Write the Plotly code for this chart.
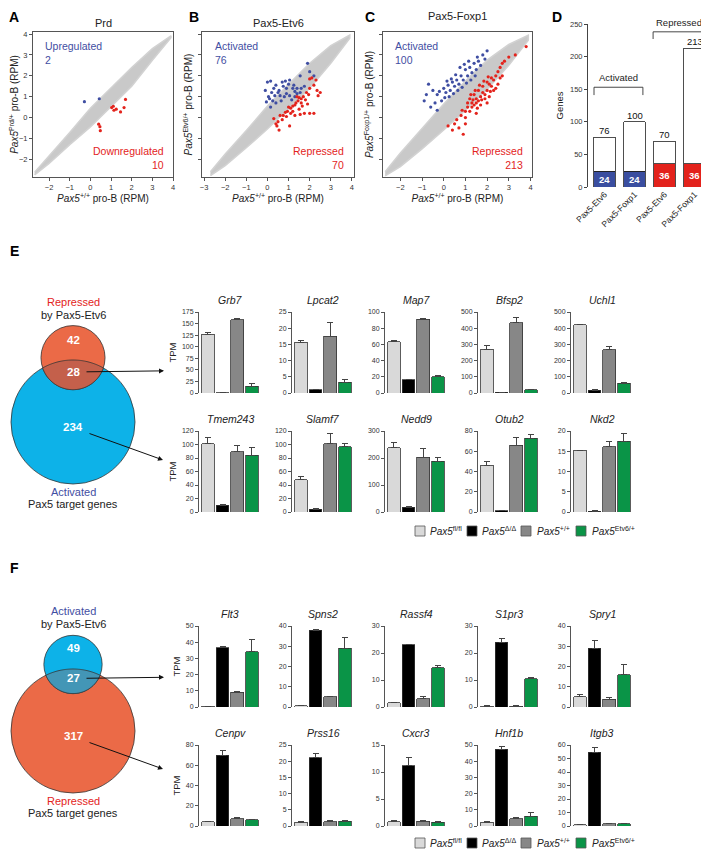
import math
import numpy as np
import plotly.graph_objects as go

W, H = 709, 854
OFF = 8  # the page body margin moves the figure 8 px right and down
FONT = "Liberation Sans, Arial, sans-serif"

# ---------------- data ----------------
# A-C scatter: outline of the grey gene cloud + coloured genes
band_x = [-2.7, -2.0, -1.0, 0.0, 1.0, 2.0, 3.0, 3.9]
a_band_hi = [-2.62, -1.85, -0.72, 0.45, 1.45, 2.4, 3.3, 3.92]
a_band_lo = [-2.75, -2.2, -1.3, -0.45, 0.5, 1.5, 2.75, 3.82]
b_band_hi = [-2.6, -1.75, -0.62, 0.55, 1.6, 2.6, 3.45, 3.95]
b_band_lo = [-2.78, -2.3, -1.45, -0.55, 0.4, 1.4, 2.6, 3.8]
c_band_hi = [-2.6, -1.7, -0.52, 0.65, 1.75, 2.75, 3.5, 3.95]
c_band_lo = [-2.8, -2.35, -1.5, -0.6, 0.35, 1.35, 2.5, 3.7]

a_up_x = [-0.29, 0.43]
a_up_y = [0.76, 0.9]
a_dn_x = [1.03, 1.14, 1.11, 1.25, 1.70, 1.63, 1.46, 0.40, 0.46, 0.48]
a_dn_y = [0.48, 0.35, 0.54, 0.40, 0.87, 0.48, 0.27, -0.32, -0.44, -0.63]

b_up_x = [0.0, 0.15, 0.3, 0.4, 0.55, 0.7, 0.85, 0.9, 1.0, 1.2, 1.3, 1.4, 1.6, 1.75, 1.9, 1.55,
          0.25, 0.1, 0.4, 0.65, 0.8, 1.05, 1.3, 1.4, 1.55, 0.15, -0.05, 0.6, 0.9, 1.15, 0.35,
          2.0, 2.2, 1.05, 0.75, 0.2, -0.1, 0.5, 0.05, 1.25]
b_up_y = [1.7, 1.75, 1.4, 1.55, 1.3, 1.7, 1.75, 1.4, 1.6, 1.4, 1.25, 1.4, 1.4, 1.5, 2.6, 2.0,
          0.8, 0.9, 0.7, 0.8, 1.0, 1.05, 1.0, 1.15, 1.2, 0.5, 0.75, 1.05, 1.15, 0.85, 1.05,
          2.2, 2.0, 1.8, 1.5, 1.2, 1.3, 1.2, 1.0, 1.55]
b_dn_x = [2.0, 2.1, 2.3, 2.2, 2.0, 1.85, 1.7, 1.6, 1.5, 1.45, 1.35, 1.3, 1.2, 1.1, 1.0, 0.95,
          0.85, 0.75, 0.7, 0.5, 0.45, 0.55, 0.4, 1.05, 1.3, 1.55, 1.75, 2.0, 2.2, 2.5, 2.35,
          1.9, 1.65, 1.5, 1.2, 0.9, 1.4, 1.6, 1.8, 0.3, 0.6, 1.1, 2.4, 1.95]
b_dn_y = [1.85, 1.9, 1.8, 1.55, 1.4, 1.2, 1.0, 0.9, 0.95, 0.8, 0.7, 0.6, 0.55, 0.45, 0.5, 0.3,
          0.25, 0.1, -0.1, -0.2, -0.4, -0.6, -0.3, -0.4, 0.1, 0.15, 0.2, 0.2, 0.2, 1.2, 1.3,
          0.65, 0.55, 0.4, 0.3, 0.05, 1.0, 0.7, 0.85, -0.05, 0.1, 0.2, 1.05, 1.1]

c_up_x = [-0.7, -0.5, -0.3, -0.2, 0.0, 0.1, 0.2, 0.3, 0.4, 0.5, 0.6, 0.7, 0.8, 0.9, 1.0, 1.1,
          1.2, 1.3, 1.4, 1.5, 1.6, 1.7, 1.8, 1.9, 2.0, -0.9, -0.6, -0.4, -0.1, 0.05, 0.25, 0.45,
          0.65, 0.85, 1.05, 1.25, 1.45, -0.3, 0.15, 0.55, 0.35, 0.75, 1.15, -0.8, 0.95, 1.55]
c_up_y = [1.6, 1.3, 1.1, 1.25, 1.4, 1.2, 1.55, 1.3, 1.7, 1.5, 1.8, 1.6, 2.0, 1.8, 2.3, 2.0,
          2.4, 2.15, 2.6, 2.3, 2.7, 2.5, 3.0, 2.8, 3.2, 0.8, 0.5, 0.7, 0.8, 0.95, 1.0, 1.15,
          1.3, 1.45, 1.65, 1.8, 2.0, 0.35, 1.75, 2.05, 1.85, 2.4, 2.7, 1.1, 2.55, 2.9]
c_dn_x = [0.5, 0.7, 0.9, 0.6, 0.8, 1.0, 1.0, 1.1, 1.2, 1.3, 1.4, 1.5, 1.6, 1.7, 1.8, 1.9,
          2.0, 2.1, 2.2, 2.3, 2.4, 2.5, 2.6, 2.7, 2.8, 3.0, 3.8, 3.3, 1.2, 1.4, 1.6, 1.8, 2.0,
          2.2, 1.1, 1.3, 1.5, 1.7, 1.9, 2.1, 2.3, 2.5, 2.7, 0.4, 0.2, 1.0, 1.5, 2.0, 2.4, 2.6,
          1.25, 1.45, 1.65, 1.85, 2.05, 1.55, 1.75, 0.85, 1.35, 2.15]
c_dn_y = [-0.3, -0.5, -0.8, -0.1, 0.1, 0.0, 0.3, 0.5, 0.3, 0.7, 0.6, 0.9, 0.8, 1.0, 1.2, 1.1,
          1.3, 1.6, 1.5, 1.8, 2.0, 2.2, 2.4, 2.6, 2.7, 2.9, 3.4, 3.0, 0.9, 1.1, 1.3, 1.5, 1.7,
          1.9, 0.7, 0.5, 0.7, 0.6, 0.9, 1.0, 1.3, 1.6, 2.0, -0.6, -0.4, -0.3, 0.2, 0.7, 1.4, 1.9,
          1.1, 1.3, 1.55, 1.75, 1.95, 0.45, 0.85, 0.35, 0.85, 1.25]

# D
d_labels = ["Pax5-Etv6", "Pax5-Foxp1", "Pax5-Etv6", "Pax5-Foxp1"]
d_total = [76, 100, 70, 213]
d_core = [24, 24, 36, 36]

# E / F Venn counts
e_venn = dict(only_small=42, overlap=28, only_big=234)
f_venn = dict(only_small=49, overlap=27, only_big=317)

# E bar charts  (Pax5 fl/fl, delta/delta, +/+, Etv6/+)
e_genes = ["Grb7", "Lpcat2", "Map7", "Bfsp2", "Uchl1", "Tmem243", "Slamf7", "Nedd9", "Otub2", "Nkd2"]
e_fl = [127, 15.7, 63, 270, 420, 101, 48, 238, 46, 15.2]
e_fl_err = [4, 0.5, 2, 22, 4, 10, 5, 18, 4, 0.1]
e_del = [1, 1.0, 16.5, 5, 18, 10, 4, 18, 1, 0.2]
e_del_err = [0.3, 0.2, 0.5, 1, 3, 1, 1, 2, 0.3, 0.05]
e_wt = [158, 17.5, 91, 435, 268, 89, 101, 202, 66, 16.1]
e_wt_err = [3, 4.3, 1, 28, 18, 9, 15, 35, 8, 1.3]
e_etv = [15, 3.3, 20, 20, 60, 84, 97, 188, 73, 17.5]
e_etv_err = [6, 0.8, 1, 3, 6, 11, 5, 15, 4, 2]
e_ymax = [175, 25, 100, 500, 500, 120, 120, 300, 80, 20]
e_dtick = [25, 5, 20, 100, 100, 20, 20, 100, 20, 5]

# F bar charts
f_genes = ["Flt3", "Spns2", "Rassf4", "S1pr3", "Spry1", "Cenpv", "Prss16", "Cxcr3", "Hnf1b", "Itgb3"]
f_fl = [0.5, 0.6, 1.5, 0.3, 5, 4, 1.2, 0.8, 2.2, 1.0]
f_fl_err = [0.1, 0.1, 0.3, 0.1, 1.3, 0.8, 0.3, 0.2, 0.4, 0.2]
f_del = [36.5, 38, 23, 24, 29, 70, 21, 11.2, 47.5, 54.5]
f_del_err = [0.7, 0.4, 0.3, 1.2, 4, 5, 1.5, 1.5, 1.5, 4]
f_wt = [9, 5, 3, 0.3, 3.8, 7, 1.3, 0.9, 4.5, 1.5]
f_wt_err = [0.3, 0.3, 1, 0.1, 1, 1, 0.3, 0.2, 0.5, 0.3]
f_etv = [34, 29, 14.5, 10.5, 16, 6, 1.5, 0.7, 6, 1.5]
f_etv_err = [7.5, 5.5, 1, 0.5, 5, 0.8, 0.3, 0.2, 2.5, 0.3]
f_ymax = [50, 40, 30, 30, 40, 80, 25, 15, 50, 60]
f_dtick = [10, 10, 10, 10, 10, 20, 5, 5, 10, 10]

genotypes = ["<i>Pax5</i><sup>fl/fl</sup>", "<i>Pax5</i><sup>\u0394/\u0394</sup>",
             "<i>Pax5</i><sup>+/+</sup>", "<i>Pax5</i><sup>Etv6/+</sup>"]
geno_cols = ["#d9d9d9", "#000000", "#878787", "#0a9447"]

BLUE_T = "#3f4ea2"
RED_T = "#e3231c"
CYAN = "#0db2e8"
ORANGE = "#eb6a47"


def px(x):
    return (x - OFF) / W


def py(y):
    return 1 - (y - OFF) / H


fig = go.Figure()
layout = {}
shapes = []
annos = []
n_ax = [0]


def new_axes(x0, x1, y0, y1, xo, yo):
    n_ax[0] += 1
    s = "" if n_ax[0] == 1 else str(n_ax[0])
    layout["xaxis" + s] = dict(domain=[px(x0), px(x1)], anchor="y" + s, automargin=False, **xo)
    layout["yaxis" + s] = dict(domain=[py(y1), py(y0)], anchor="x" + s, automargin=False, **yo)
    return "x" + s, "y" + s


def text(x, y, t, size=10, color="#222", xanchor="center", yanchor="middle"):
    annos.append(dict(x=px(x), y=py(y), xref="paper", yref="paper", text=t, showarrow=False,
                      xanchor=xanchor, yanchor=yanchor,
                      font=dict(size=size, color=color, family=FONT)))


# ---------------- A-C scatter ----------------
scat = [
    dict(letter="A", lx=14, title="Prd", ty=23, x0=33, x1=173, xr=[-2.78, 4.0], lab=True,
         ylab="<i>Pax5</i><sup>Prd/+</sup> pro-B (RPM)", hi=a_band_hi, lo=a_band_lo,
         up=(a_up_x, a_up_y), dn=(a_dn_x, a_dn_y), tu="Upregulated<br>2", td="Downregulated<br>10"),
    dict(letter="B", lx=194, title="Pax5-Etv6", ty=23, x0=202, x1=354, xr=[-3.1, 4.1], lab=False,
         ylab="<i>Pax5</i><sup>Etv6/+</sup> pro-B (RPM)", hi=b_band_hi, lo=b_band_lo,
         up=(b_up_x, b_up_y), dn=(b_dn_x, b_dn_y), tu="Activated<br>76", td="Repressed<br>70"),
    dict(letter="C", lx=370, title="Pax5-Foxp1", ty=16, x0=383, x1=532, xr=[-2.8, 4.07], lab=False,
         ylab="<i>Pax5</i><sup>Foxp1/+</sup> pro-B (RPM)", hi=c_band_hi, lo=c_band_lo,
         up=(c_up_x, c_up_y), dn=(c_dn_x, c_dn_y), tu="Activated<br>100", td="Repressed<br>213"),
]
for p in scat:
    axline = dict(showline=True, mirror=True, linecolor="#555", linewidth=1, ticks="outside",
                  ticklen=3, tickcolor="#555", tickfont=dict(size=7.5, color="#333"),
                  tick0=0, dtick=1, showgrid=False, zeroline=False)
    xa, ya = new_axes(
        p["x0"], p["x1"], 32, 177,
        dict(axline, range=p["xr"],
             title=dict(text="<i>Pax5</i><sup>+/+</sup> pro-B (RPM)", font=dict(size=10, color="#222"), standoff=3)),
        dict(axline, range=[-2.85, 4.1], showticklabels=p["lab"],
             title=dict(text=p["ylab"], font=dict(size=10, color="#222"), standoff=3)))
    fig.add_trace(go.Scatter(x=band_x + band_x[::-1], y=p["hi"] + p["lo"][::-1], fill="toself",
                             fillcolor="#c9c9c9", line=dict(width=1.5, color="#d2d2d2"),
                             mode="lines", xaxis=xa, yaxis=ya, hoverinfo="skip"))
    fig.add_trace(go.Scatter(x=p["up"][0], y=p["up"][1], mode="markers", xaxis=xa, yaxis=ya,
                             marker=dict(size=3.2, color=BLUE_T)))
    fig.add_trace(go.Scatter(x=p["dn"][0], y=p["dn"][1], mode="markers", xaxis=xa, yaxis=ya,
                             marker=dict(size=3.2, color=RED_T)))
    annos.append(dict(xref=xa + " domain", yref=ya + " domain", x=0.07, y=0.96, xanchor="left",
                      yanchor="top", align="left", text=p["tu"], showarrow=False,
                      font=dict(size=10.5, color=BLUE_T, family=FONT)))
    annos.append(dict(xref=xa + " domain", yref=ya + " domain", x=0.95, y=0.03, xanchor="right",
                      yanchor="bottom", align="right", text=p["td"], showarrow=False,
                      font=dict(size=10.5, color=RED_T, family=FONT)))
    text((p["x0"] + p["x1"]) / 2, p["ty"], p["title"], size=11)
    text(p["lx"], 17, "<b>%s</b>" % p["letter"], size=14, color="#000")

# ---------------- D stacked bars ----------------
xa, ya = new_axes(
    588, 708, 24, 187,
    dict(range=[-0.55, 3.45], tickvals=[0, 1, 2, 3], ticktext=d_labels, tickangle=-45,
         tickfont=dict(size=8.5, color="#222"), showline=False, ticks="", showgrid=False, zeroline=False),
    dict(range=[0, 250], dtick=50, tick0=0, showline=True, linecolor="#444", linewidth=1, ticks="outside",
         ticklen=3, tickfont=dict(size=7.5, color="#333"), showgrid=False, zeroline=False,
         title=dict(text="Genes", font=dict(size=9.5, color="#222"), standoff=4)))
core_cols = ["#3a4ea0", "#3a4ea0", "#e3221c", "#e3221c"]
fig.add_trace(go.Bar(x=[0, 1, 2, 3], y=d_core, marker=dict(color=core_cols, line=dict(color="#222", width=0.8)),
                     width=0.73, xaxis=xa, yaxis=ya))
fig.add_trace(go.Bar(x=[0, 1, 2, 3], y=[t - c for t, c in zip(d_total, d_core)],
                     marker=dict(color="white", line=dict(color="#222", width=0.8)),
                     width=0.73, xaxis=xa, yaxis=ya))
for i in range(4):
    annos.append(dict(xref=xa, yref=ya, x=i, y=d_total[i], yanchor="bottom", text=str(d_total[i]),
                      showarrow=False, font=dict(size=9.5, color="#111", family=FONT), yshift=-1))
    annos.append(dict(xref=xa, yref=ya, x=i, y=d_core[i] / 2, text="<b>%d</b>" % d_core[i],
                      showarrow=False, font=dict(size=9.5, color="white", family=FONT)))
shapes.append(dict(type="path", xref=xa, yref=ya, path="M -0.35,141 L -0.35,153 L 1.28,153 L 1.28,141",
                   line=dict(color="#333", width=0.9)))
shapes.append(dict(type="path", xref=xa, yref=ya, path="M 1.62,227 L 1.62,238 L 3.32,238 L 3.32,227",
                   line=dict(color="#333", width=0.9)))
annos.append(dict(xref=xa, yref=ya, x=0.47, y=156, yanchor="bottom", text="Activated", showarrow=False,
                  font=dict(size=9.5, color="#222", family=FONT)))
annos.append(dict(xref=xa, yref=ya, x=2.47, y=241, yanchor="bottom", text="Repressed", showarrow=False,
                  font=dict(size=9.5, color="#222", family=FONT)))
text(557, 17, "<b>D</b>", size=14, color="#000")

# ---------------- E / F bar charts ----------------
col_x = [199, 292, 385, 478, 571]


def bar_block(genes, fl, fl_e, de, de_e, wt, wt_e, et, et_e, ymax, dtick, row_tops):
    for k, g in enumerate(genes):
        r, c = divmod(k, 5)
        top = row_tops[r]
        x0 = col_x[c]
        yopts = dict(range=[0, ymax[k]], tick0=0, dtick=dtick[k], showline=True, linecolor="#555", linewidth=1,
                     ticks="outside", ticklen=3, tickcolor="#555", tickfont=dict(size=7, color="#333"),
                     showgrid=False, zeroline=False)
        if c == 0:
            yopts["title"] = dict(text="TPM", font=dict(size=9.5, color="#222"), standoff=3)
        xa, ya = new_axes(
            x0, x0 + 61, top, top + 81,
            dict(range=[-0.6, 3.55], visible=False, showgrid=False, zeroline=False), yopts)
        fig.add_trace(go.Bar(
            x=[0, 1, 2, 3], y=[fl[k], de[k], wt[k], et[k]], width=0.86, xaxis=xa, yaxis=ya,
            marker=dict(color=geno_cols, line=dict(color="#333", width=0.8)),
            error_y=dict(type="data", symmetric=False, array=[fl_e[k], de_e[k], wt_e[k], et_e[k]],
                         arrayminus=[0, 0, 0, 0], color="#444", thickness=1, width=3)))
        text(x0 + 31, top - 12, "<i>%s</i>" % g, size=10.5)


bar_block(e_genes, e_fl, e_fl_err, e_del, e_del_err, e_wt, e_wt_err, e_etv, e_etv_err, e_ymax, e_dtick, [312, 431])
bar_block(f_genes, f_fl, f_fl_err, f_del, f_del_err, f_wt, f_wt_err, f_etv, f_etv_err, f_ymax, f_dtick, [626, 745])


# legends
def legend(yc):
    for (bx, tx), lab, col in zip([(415, 428), (467, 480), (521, 535), (576, 590)], genotypes, geno_cols):
        shapes.append(dict(type="rect", xref="paper", yref="paper", x0=px(bx), x1=px(bx + 10),
                           y0=py(yc + 5), y1=py(yc - 5), fillcolor=col, line=dict(color="#555", width=0.8)))
        text(tx, yc, lab, size=10, xanchor="left")


legend(531)
legend(843)


# ---------------- Venn diagrams ----------------
def lens_area(d, r, R):
    if d >= r + R:
        return 0.0
    if d <= abs(R - r):
        return math.pi * min(r, R) ** 2
    a1 = r * r * math.acos((d * d + r * r - R * R) / (2 * d * r))
    a2 = R * R * math.acos((d * d + R * R - r * r) / (2 * d * R))
    a3 = 0.5 * math.sqrt((-d + r + R) * (d + r - R) * (d - r + R) * (d + r + R))
    return a1 + a2 - a3


def circle(cx, cy, r, col):
    shapes.append(dict(type="circle", xref="paper", yref="paper", x0=px(cx - r), x1=px(cx + r),
                       y0=py(cy + r), y1=py(cy - r), fillcolor=col, line=dict(color="#333", width=0.8)))


def arrow(x_from, y_from, x_to, y_to):
    shapes.append(dict(type="line", xref="paper", yref="paper", x0=px(x_from), y0=py(y_from),
                       x1=px(x_to - 3), y1=py(y_to - 3 * (y_to - y_from) / (x_to - x_from)),
                       line=dict(color="#111", width=1)))
    annos.append(dict(xref="paper", yref="paper", x=px(x_to), y=py(y_to), ax=x_from - x_to, ay=y_from - y_to,
                      text=" ", showarrow=True, arrowhead=2, arrowsize=1, arrowwidth=1, arrowcolor="#111",
                      font=dict(size=1)))


def venn(v, cx, cy_big, small_col, big_col, lens_col, top_lab, bot_lab, letter, letter_y):
    R = 62.0
    small_tot = v["only_small"] + v["overlap"]
    big_tot = v["only_big"] + v["overlap"]
    r = R * math.sqrt(small_tot / big_tot)
    target = v["overlap"] / small_tot * math.pi * r * r
    lo, hi = abs(R - r) + 1e-6, R + r
    for _ in range(60):
        mid = (lo + hi) / 2
        if lens_area(mid, r, R) > target:
            lo = mid
        else:
            hi = mid
    d = (lo + hi) / 2
    cy_small = cy_big - d
    circle(cx, cy_big, R, big_col)
    circle(cx, cy_small, r, small_col)
    # overlap region
    t = np.linspace(0, 2 * np.pi, 361)
    pts = []
    for tt in t:
        x, y = cx + r * np.cos(tt), cy_small + r * np.sin(tt)
        if (x - cx) ** 2 + (y - cy_big) ** 2 <= R * R:
            pts.append((x, y))
        x, y = cx + R * np.cos(tt), cy_big + R * np.sin(tt)
        if (x - cx) ** 2 + (y - cy_small) ** 2 <= r * r:
            pts.append((x, y))
    mx = np.mean([q[0] for q in pts])
    my = np.mean([q[1] for q in pts])
    pts.sort(key=lambda q: math.atan2(q[1] - my, q[0] - mx))
    path = "M " + " L ".join("%.5f,%.5f" % (px(x), py(y)) for x, y in pts) + " Z"
    shapes.append(dict(type="path", xref="paper", yref="paper", path=path, fillcolor=lens_col,
                       line=dict(color="#333", width=0.8)))
    lens_mid = (cy_big - R + cy_small + r) / 2 - 3
    text(cx, cy_small - 0.55 * r, "<b>%d</b>" % v["only_small"], size=11.5, color="white")
    text(cx, lens_mid, "<b>%d</b>" % v["overlap"], size=11.5, color="white")
    text(cx, cy_big + 5, "<b>%d</b>" % v["only_big"], size=11.5, color="white")
    text(cx, cy_small - r - 24, top_lab[0], size=11, color=top_lab[1])
    text(cx, cy_small - r - 11, "by Pax5-Etv6", size=11)
    text(cx, cy_big + R + 8, bot_lab[0], size=11, color=bot_lab[1])
    text(cx, cy_big + R + 20, "Pax5 target genes", size=11)
    # arrows to the bar charts
    annos.append(dict(xref="paper", yref="paper", x=px(164), y=py(lens_mid - 1), ax=85 - 164, ay=1,
                      text="", showarrow=True, arrowhead=2, arrowsize=1, arrowwidth=1, arrowcolor="#111"))
    annos.append(dict(xref="paper", yref="paper", x=px(163), y=py(cy_big + 38), ax=88 - 163, ay=-27,
                      text="", showarrow=True, arrowhead=2, arrowsize=1, arrowwidth=1, arrowcolor="#111"))
    text(14, letter_y, "<b>%s</b>" % letter, size=14, color="#000")


venn(e_venn, 73, 422, ORANGE, CYAN, "#c4604b", ("Repressed", RED_T), ("Activated", BLUE_T), "E", 251)
venn(f_venn, 73, 731, CYAN, ORANGE, "#4396b6", ("Activated", BLUE_T), ("Repressed", RED_T), "F", 568)

fig.update_layout(**layout)
fig.update_layout(template="none", width=W, height=H, margin=dict(l=0, r=0, t=0, b=0, pad=0),
                  showlegend=False, plot_bgcolor="white", paper_bgcolor="white", barmode="stack",
                  bargap=0.1, font=dict(family=FONT, size=10, color="#222"),
                  shapes=shapes, annotations=annos)
fig.write_html("out.html")
